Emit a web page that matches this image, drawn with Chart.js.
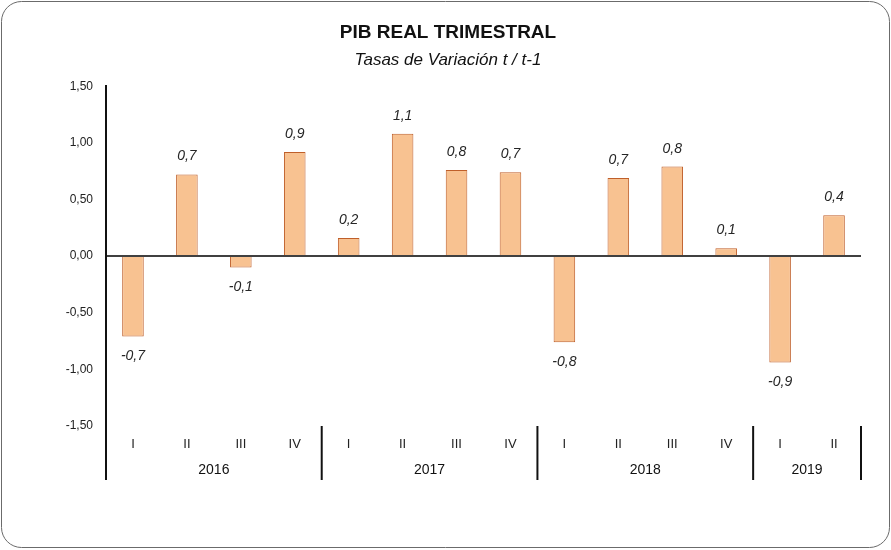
<!DOCTYPE html>
<html>
<head>
<meta charset="utf-8">
<script src="https://cdn.jsdelivr.net/npm/chart.js@4"></script>
<style>
  html, body { margin: 0; padding: 0; background: #fff; }
  #wrap { width: 891px; height: 550px; }
</style>
</head>
<body>
<div id="wrap"><canvas id="myChart" width="891" height="550"></canvas></div>
<script>
// datos del grafico
var trimestres = ['I', 'II', 'III', 'IV', 'I', 'II', 'III', 'IV', 'I', 'II', 'III', 'IV', 'I', 'II'];
var anios = ['2016', '2017', '2018', '2019'];
var trimestresPorAnio = [4, 4, 4, 2];
var valores = [-0.71, 0.72, -0.10, 0.92, 0.16, 1.08, 0.76, 0.74, -0.76, 0.69, 0.79, 0.07, -0.94, 0.36];
var ticksY = [-1.5, -1.0, -0.5, 0, 0.5, 1.0, 1.5];

function fmt(v, d) {
    return v.toFixed(d).replace('.', ',');
}

// marco redondeado + etiquetas de datos + eje de años
var pluginExtra = {
    id: 'extra',
    beforeDraw: function (chart) {
        var c = chart.ctx;
        c.save();
        c.fillStyle = '#fff';
        c.fillRect(0, 0, chart.width, chart.height);
        c.strokeStyle = '#6b6b6b';
        c.lineWidth = 1;
        c.beginPath();
        c.roundRect(1.5, 1.5, chart.width - 3, chart.height - 4, 20);
        c.stroke();
        c.restore();
    },
    afterDatasetsDraw: function (chart) {
        var c = chart.ctx;
        var meta = chart.getDatasetMeta(0);
        c.save();
        c.font = 'italic 14px "Liberation Sans", Arial, sans-serif';
        c.fillStyle = '#262626';
        c.textAlign = 'center';
        c.textBaseline = 'middle';
        meta.data.forEach(function (bar, i) {
            var v = valores[i];
            var y = v >= 0 ? bar.y - 18 : bar.y + 20;
            c.fillText(fmt(v, 1), bar.x, y);
        });
        c.restore();
    },
    afterDraw: function (chart) {
        var c = chart.ctx;
        var x = chart.scales.x;
        var area = chart.chartArea;
        var half = (x.getPixelForValue(1) - x.getPixelForValue(0)) / 2;
        var yBottom = 480;
        c.save();
        c.strokeStyle = '#111';
        c.lineWidth = 2;
        // prolongacion del eje Y
        c.beginPath();
        c.moveTo(area.left, area.bottom);
        c.lineTo(area.left, yBottom);
        c.stroke();
        c.font = '14px "Liberation Sans", Arial, sans-serif';
        c.fillStyle = '#111';
        c.textAlign = 'center';
        c.textBaseline = 'middle';
        var idx = 0;
        anios.forEach(function (a, k) {
            var n = trimestresPorAnio[k];
            var x0 = x.getPixelForValue(idx) - half;
            var x1 = x.getPixelForValue(idx + n - 1) + half;
            c.beginPath();
            c.moveTo(x1, area.bottom);
            c.lineTo(x1, yBottom);
            c.stroke();
            c.fillText(a, (x0 + x1) / 2, 470);
            idx += n;
        });
        c.restore();
    }
};

var ctx = document.getElementById('myChart');
window.myChart = new Chart(ctx, {
    type: 'bar',
    data: {
        labels: trimestres,
        datasets: [{
            label: 'PIB',
            data: valores,
            backgroundColor: '#F8C291',
            borderColor: '#BF5F2A',
            borderWidth: 1,
            barPercentage: 0.4,
            categoryPercentage: 1
        }]
    },
    options: {
        responsive: false,
        animation: false,
        layout: { padding: { top: 13, right: 30, bottom: 0, left: 35 } },
        plugins: {
            legend: { display: false },
            tooltip: { enabled: false },
            title: {
                display: true,
                text: 'PIB REAL TRIMESTRAL',
                color: '#111',
                font: { family: '"Liberation Sans", Arial, sans-serif', size: 19, weight: 'bold' },
                padding: { top: 8, bottom: 4 }
            },
            subtitle: {
                display: true,
                text: 'Tasas de Variación t / t-1',
                color: '#111',
                font: { family: '"Liberation Sans", Arial, sans-serif', size: 17, style: 'italic' },
                padding: { top: 2, bottom: 16 }
            }
        },
        scales: {
            x: {
                grid: { display: false },
                border: { display: false },
                ticks: {
                    color: '#222',
                    font: { family: '"Liberation Sans", Arial, sans-serif', size: 13 },
                    padding: 3,
                    maxRotation: 0,
                    autoSkip: false
                },
                afterFit: function (scale) { scale.height = 124; }
            },
            y: {
                min: -1.5,
                max: 1.5,
                afterBuildTicks: function (scale) {
                    scale.ticks = ticksY.map(function (v) { return { value: v }; });
                },
                grid: {
                    drawTicks: false,
                    color: function (c) { return c.tick && c.tick.value === 0 ? '#404040' : 'rgba(0,0,0,0)'; },
                    lineWidth: 2
                },
                border: { display: true, color: '#111', width: 2 },
                ticks: {
                    color: '#222',
                    padding: 13,
                    font: { family: '"Liberation Sans", Arial, sans-serif', size: 12 },
                    callback: function (v) { return fmt(v, 2); }
                },
                afterFit: function (scale) { scale.width = 71; }
            }
        }
    },
    plugins: [pluginExtra]
});
</script>
</body>
</html>
